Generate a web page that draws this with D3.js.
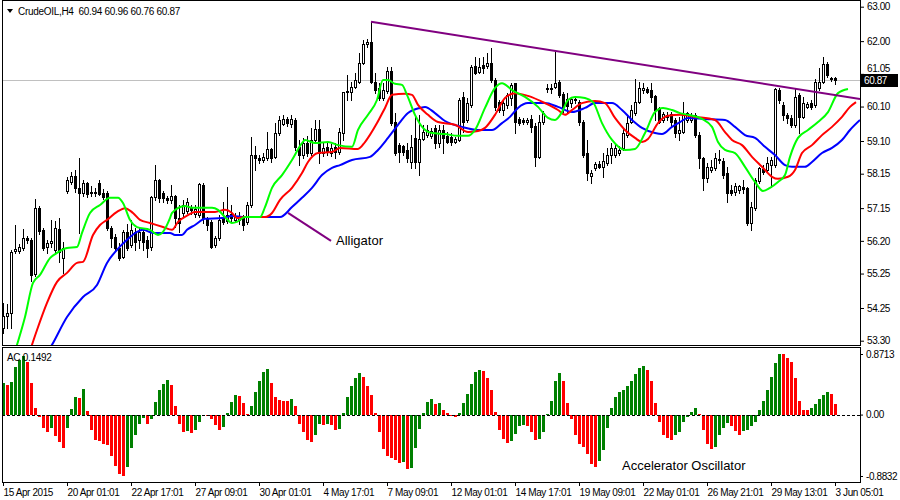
<!DOCTYPE html>
<html><head><meta charset="utf-8">
<script src="https://cdn.jsdelivr.net/npm/d3@7"></script>
<style>
body{margin:0;background:#fff}
svg{display:block}
text{font-family:"Liberation Sans",Arial,sans-serif}
</style>
</head><body>
<svg id="c" width="900" height="500"></svg>
<script>
// ---------- DATA ----------
const symbolTitle = "CrudeOIL,H4\u00a0\u00a060.94 60.96 60.76 60.87";
const open = [
53.67,54.02,54.11,55.91,55.91,55.99,56.28,56.23,55.24,57.15,
56.52,56.02,56.14,55.94,56.55,55.70,57.65,57.91,58.08,57.74,
57.59,57.88,57.59,57.62,57.88,57.59,57.59,56.57,56.31,55.99,
55.73,56.46,56.08,56.46,56.23,56.46,56.23,56.02,57.47,57.97,
57.59,57.45,57.39,57.50,56.86,57.01,57.07,57.15,56.98,56.95,
57.82,56.86,56.75,56.08,56.28,56.89,56.78,56.98,56.81,56.81,
56.86,56.75,57.24,58.69,58.61,58.55,58.61,58.87,58.64,59.33,
59.59,59.74,59.59,59.71,58.93,58.69,59.04,58.75,59.13,59.45,
58.75,58.93,58.75,58.93,58.78,59.33,60.55,60.52,60.67,60.81,
61.37,61.92,61.98,60.81,60.64,60.35,60.55,61.13,59.65,58.98,
58.96,58.84,58.49,59.19,58.49,59.16,59.27,59.25,59.48,59.04,
59.42,59.25,59.22,59.07,59.13,60.38,59.71,60.15,61.28,61.10,
61.31,61.28,61.37,60.87,60.23,60.00,60.15,60.35,60.78,59.74,
59.71,59.65,59.74,59.54,58.64,59.65,60.64,60.61,60.67,60.81,
60.47,60.32,60.20,60.29,60.23,59.65,58.75,58.08,58.32,58.43,
58.35,58.46,58.69,58.69,58.75,58.90,59.27,59.65,59.91,60.23,
60.58,60.61,60.58,60.41,60.06,59.71,59.86,59.88,59.71,59.33,
59.36,59.71,59.71,59.86,59.27,58.61,58.03,58.26,58.32,58.55,
58.52,58.17,57.68,57.62,57.68,57.76,57.74,56.72,57.15,57.94,
58.29,58.26,58.40,58.40,60.58,60.15,59.86,59.77,59.57,60.44,
59.80,60.09,60.20,60.15,60.64,60.81,61.34,60.93,60.94];
const high = [
54.40,54.37,55.94,56.66,56.11,56.55,56.34,56.28,57.42,57.21,
56.57,56.23,56.81,56.78,56.86,56.17,58.05,58.20,58.26,58.61,
57.97,57.91,57.79,57.74,57.97,57.71,57.65,56.63,56.40,56.14,
56.52,56.69,56.81,56.57,56.57,56.57,56.34,57.50,58.40,58.00,
57.65,57.50,57.82,57.53,57.24,57.39,57.45,57.24,57.24,57.88,
57.88,56.89,56.81,56.34,56.95,57.33,57.76,57.24,57.01,57.04,
56.95,57.33,59.22,58.96,58.69,58.75,59.36,58.90,59.62,59.83,
59.86,59.80,59.86,59.77,59.13,59.19,59.25,59.48,59.71,59.71,
59.07,59.04,59.01,59.04,59.48,60.52,61.02,60.81,61.08,61.66,
62.03,62.06,62.56,61.08,60.78,60.78,61.25,61.25,59.91,59.04,
58.98,59.04,59.27,59.86,59.86,59.57,59.57,59.48,59.57,59.57,
59.57,59.36,59.33,59.22,60.35,60.52,60.35,61.31,61.54,61.51,
61.54,61.66,61.80,60.93,60.29,60.29,60.49,60.78,60.78,59.80,
59.77,59.77,59.86,59.62,59.86,59.97,60.76,60.76,61.69,60.87,
60.52,60.49,60.38,60.38,60.29,59.71,59.13,58.26,58.49,58.52,
58.75,58.90,59.04,58.98,58.96,59.48,59.86,60.15,60.90,60.81,
60.78,60.67,60.78,60.44,60.09,59.94,59.94,59.94,59.77,59.80,
60.23,59.94,59.91,59.91,59.36,58.64,58.46,58.55,58.75,58.84,
58.61,58.35,57.82,57.88,57.82,57.97,57.76,57.33,58.03,58.35,
58.40,58.64,58.64,60.64,60.64,60.23,59.91,59.86,60.64,60.49,
60.38,60.23,60.29,60.90,61.22,61.54,61.39,60.96,60.96];
const low = [
53.53,53.67,53.67,55.85,55.85,55.94,56.14,55.04,55.18,56.40,
55.94,55.85,56.02,55.88,55.59,55.27,57.59,57.85,57.62,56.43,
57.50,57.47,57.50,57.50,57.53,57.42,56.52,56.02,55.91,55.65,
55.70,55.94,56.02,55.94,55.99,55.94,55.73,55.94,57.39,57.33,
57.33,57.30,57.30,56.60,56.46,56.89,57.01,56.98,56.89,56.89,
56.72,56.52,55.99,56.02,56.23,56.69,56.72,56.75,56.75,56.69,
56.52,56.69,57.18,58.26,58.46,58.49,58.55,58.49,58.61,59.27,
59.57,59.54,59.51,58.84,58.40,58.61,58.67,58.69,59.07,58.46,
58.67,58.69,58.67,58.61,58.72,59.13,60.29,60.29,60.64,60.78,
61.34,61.83,60.78,60.49,60.29,60.29,60.49,59.57,58.69,58.49,
58.69,58.49,58.32,58.32,58.11,59.13,59.22,59.19,58.90,58.93,
58.75,59.04,58.98,59.04,59.10,59.36,59.65,60.09,61.05,61.08,
61.08,61.22,60.81,60.00,59.94,59.86,60.06,60.15,59.33,59.57,
59.59,59.59,59.36,58.37,58.61,59.59,60.52,60.49,60.64,60.38,
59.94,59.94,60.09,60.20,59.57,58.64,57.97,57.88,58.26,58.32,
58.05,58.40,58.46,58.64,58.69,58.84,59.22,59.62,59.86,60.20,
60.49,60.49,60.23,59.71,59.62,59.65,59.71,59.51,59.22,59.13,
59.33,59.65,59.65,59.22,58.32,57.68,57.91,58.20,58.26,58.46,
58.03,57.33,57.53,57.53,57.59,57.59,56.66,56.52,57.10,57.88,
58.14,58.20,57.76,58.35,60.20,59.71,59.62,59.51,59.51,59.33,
59.77,60.06,60.03,60.09,60.58,60.78,60.96,60.84,60.76];
const close = [
54.02,54.11,55.88,55.96,56.02,56.28,56.23,55.21,57.15,56.49,
55.99,56.14,56.20,56.57,55.88,55.99,57.97,58.08,57.74,57.59,
57.88,57.56,57.62,57.59,57.56,57.47,56.57,56.28,55.99,55.70,
56.46,55.99,56.52,56.17,56.46,56.17,55.99,57.47,57.97,57.45,
57.45,57.39,57.50,56.86,56.72,57.24,57.33,57.10,57.13,57.85,
56.86,56.66,56.02,56.28,56.81,56.75,56.95,56.86,56.92,56.92,
56.66,57.24,58.69,58.61,58.55,58.64,58.87,58.61,59.33,59.71,
59.74,59.62,59.74,58.93,58.69,59.04,58.75,59.13,59.45,58.75,
58.90,58.78,58.90,58.78,59.36,60.52,60.52,60.67,60.87,61.37,
61.92,61.98,60.81,60.58,60.35,60.58,61.13,59.62,58.75,58.78,
58.78,58.61,58.93,58.49,59.16,59.36,59.42,59.39,59.04,59.42,
59.19,59.07,59.07,59.16,60.29,59.65,60.20,61.25,61.08,61.25,
61.22,61.37,60.87,60.09,60.00,60.20,60.44,60.73,59.65,59.62,
59.65,59.71,59.51,58.64,59.65,59.91,60.61,60.64,60.78,60.44,
60.09,60.12,60.32,60.32,59.65,58.69,58.17,58.17,58.43,58.35,
58.52,58.69,58.90,58.90,58.84,59.33,59.62,60.00,60.23,60.64,
60.64,60.52,60.38,60.00,59.65,59.88,59.80,59.65,59.33,59.42,
59.86,59.91,59.86,59.27,58.61,58.03,58.35,58.35,58.61,58.58,
58.11,57.59,57.59,57.79,57.79,57.71,56.72,57.18,57.97,58.32,
58.20,58.46,58.55,60.61,60.29,59.86,59.77,59.57,60.38,59.80,
60.20,60.17,60.09,60.81,60.81,61.34,61.02,60.90,60.87];

// Alligator lines: [bar index, price]
const jaw = [[10,52.75],[12.25,53.18],[16,53.99],[20,54.57],[23.5,54.92],[26,55.56],[28.5,55.94],[31,56.23],[33.5,56.46],[35,56.52],[37.5,56.43],[41.75,56.43],[43,56.37],[44.75,56.37],[46,56.52],[48,56.66],[50.5,56.84],[54.75,56.86],[57.25,56.92],[60.5,56.89],[69.25,56.89],[72.25,57.18],[74.75,57.45],[77.25,57.74],[79.75,58.11],[82.25,58.32],[84.25,58.40],[87.25,58.55],[91.75,58.64],[93.75,58.84],[96.25,59.19],[98.75,59.57],[101.25,59.91],[104.25,60.06],[105.5,60.09],[108,59.91],[110.5,59.68],[114.75,59.51],[118.75,59.42],[122.25,59.42],[124.75,59.62],[126.75,59.80],[128.75,60.06],[131.25,60.20],[135.5,60.20],[138.75,60.09],[142.25,59.94],[145.5,60.06],[148,60.20],[152.25,60.20],[154.75,60.00],[157.25,59.71],[159.75,59.48],[163,59.33],[164.75,59.30],[167.25,59.51],[169.25,59.65],[171.25,59.77],[175.5,59.74],[180.5,59.71],[183,59.51],[185.5,59.27],[188,59.19],[190.5,58.93],[193,58.69],[195.5,58.40],[197.25,58.35],[200.5,58.35],[202.25,58.49],[204.75,58.75],[207.25,58.90],[209.75,59.13],[211.75,59.42],[214.25,59.71]];
const teeth = [[6,52.7],[7.25,53.18],[8.5,53.61],[11,54.40],[13.5,55.01],[16,55.27],[18.5,55.56],[20,55.59],[22.5,56.37],[24.25,56.66],[26,56.81],[28.5,57.04],[30.5,57.15],[32.5,57.01],[34.25,56.81],[36.75,56.72],[40,56.60],[42.25,56.52],[43.75,56.75],[46.25,56.95],[48,57.04],[53,57.04],[55.5,57.10],[57.25,57.01],[58.5,56.86],[60.5,56.89],[65.5,56.89],[67.25,57.01],[69.25,57.39],[72.25,57.74],[74.75,58.17],[76.25,58.49],[78.75,58.75],[82.25,58.78],[84.25,58.90],[88.75,58.87],[90.5,59.07],[93.5,59.62],[95.5,60.06],[97.25,60.44],[100.5,60.47],[102.25,60.44],[103.75,60.15],[106.25,59.86],[108.75,59.65],[113,59.57],[116.25,59.36],[118.75,59.39],[120.5,59.48],[123,59.86],[125.5,60.35],[128,60.49],[131.25,60.41],[135.5,60.20],[138.75,60.00],[140.5,59.86],[142.25,60.00],[144.75,60.20],[148,60.26],[150.5,60.20],[153,59.77],[155.5,59.42],[158,59.19],[159.75,59.07],[161.25,59.16],[163.75,59.62],[166.25,59.83],[169.25,59.86],[173,59.80],[178,59.71],[180.5,59.36],[182.25,59.13],[184.75,58.98],[187.25,58.64],[189.75,58.35],[192.25,58.06],[193.75,58.00],[196.25,58.06],[198,58.26],[199.75,58.75],[202.25,58.98],[204.75,59.27],[207.25,59.51],[209.75,59.80],[211.75,60.09],[213.25,60.23]];
const lips = [[2.5,52.8],[3.5,53.18],[5.5,53.99],[7.5,54.98],[9.25,55.21],[11.75,55.70],[13.5,55.85],[16,55.99],[18.5,56.02],[19.75,56.43],[21.75,57.01],[24.25,57.24],[26.75,57.45],[28.75,57.45],[30,57.30],[31.75,56.81],[33.5,56.60],[36.75,56.52],[38.75,56.37],[40,56.46],[41.75,56.86],[42.25,57.01],[45.5,57.21],[47.25,57.16],[52.25,57.16],[53.75,57.10],[55.5,56.89],[57.25,56.72],[58.5,56.75],[60.5,56.89],[64.25,56.89],[65.5,57.18],[67.25,57.74],[69.75,58.11],[72.25,58.55],[74.75,59.04],[75.5,59.13],[78,59.04],[81.25,59.07],[83.75,58.98],[87.25,58.93],[88.75,59.42],[91.25,59.86],[93.5,60.29],[95,60.87],[96.25,60.87],[98,60.76],[99.75,60.73],[101,60.44],[103,59.86],[105,59.48],[107.25,59.33],[110.5,59.30],[113.75,59.25],[116.25,59.25],[118,59.42],[120.5,60.06],[123,60.64],[124.75,60.78],[127.25,60.58],[130.5,60.38],[133.75,60.09],[136.25,59.77],[138,59.71],[139.75,59.94],[141.25,60.29],[143,60.38],[145.5,60.35],[147.5,60.23],[149.75,59.62],[152.25,59.13],[155.5,58.84],[158,58.87],[160.5,59.33],[163,59.94],[165,60.06],[167.25,60.00],[169.25,59.91],[171.25,59.86],[174.75,59.74],[177.25,59.51],[178.75,59.07],[180.5,58.84],[183,58.75],[185.5,58.35],[188,57.91],[190,57.65],[191.75,57.74],[193.75,57.91],[195.5,58.11],[196.75,58.64],[198.75,59.19],[201.25,59.42],[203.75,59.65],[206.25,59.94],[208.75,60.49],[211.25,60.61]];

// Trend line and label pointer: [bar index, price]
const trendLine = [[92,62.56],[214.25,60.32]];
const alligatorPointer = [[71.25,57.01],[82,56.20]];
const alligatorLabel = {text:"Alligator", bar:83.25, price:56.08};
const acLabel = {text:"Accelerator Oscillator", bar:154.75, value:-0.80};

// Accelerator Oscillator values
const ac = [
0.45,0.42,0.47,0.68,0.79,0.84,0.75,0.45,0.09,-0.03,
-0.20,-0.25,-0.20,-0.31,-0.39,-0.48,-0.20,0.08,0.25,0.24,
0.37,0.05,-0.22,-0.37,-0.38,-0.42,-0.44,-0.60,-0.74,-0.85,
-0.8832,-0.76,-0.48,-0.30,-0.13,-0.05,-0.13,-0.07,0.18,0.36,
0.44,0.50,0.42,0.13,-0.13,-0.25,-0.24,-0.27,-0.22,-0.11,
-0.005,-0.02,-0.07,-0.15,-0.22,-0.18,0.02,0.18,0.28,0.27,
0.16,0.01,0.13,0.32,0.48,0.61,0.66,0.45,0.25,0.21,
0.20,0.19,0.22,0.12,-0.13,-0.25,-0.36,-0.39,-0.29,-0.14,
-0.15,-0.14,-0.15,-0.22,-0.21,0.03,0.26,0.41,0.52,0.60,
0.54,0.41,0.28,0.03,-0.25,-0.50,-0.60,-0.63,-0.65,-0.69,
-0.68,-0.78,-0.77,-0.48,-0.21,0.03,0.18,0.22,0.15,0.17,
0.06,0.03,-0.02,-0.04,0.03,0.16,0.29,0.44,0.61,0.64,
0.62,0.52,0.36,0.04,-0.22,-0.35,-0.41,-0.38,-0.28,-0.17,
-0.15,-0.16,-0.25,-0.36,-0.35,-0.25,0.01,0.19,0.48,0.60,
0.48,0.16,-0.06,-0.29,-0.42,-0.46,-0.57,-0.71,-0.76,-0.67,
-0.51,-0.19,0.10,0.26,0.32,0.36,0.41,0.48,0.58,0.67,
0.70,0.64,0.49,0.17,-0.10,-0.29,-0.34,-0.36,-0.30,-0.25,
-0.10,-0.03,0.04,0.09,0.01,-0.22,-0.42,-0.49,-0.46,-0.30,
-0.19,-0.12,-0.17,-0.23,-0.30,-0.23,-0.22,-0.17,-0.10,0.06,
0.20,0.36,0.54,0.74,0.8713,0.865,0.81,0.76,0.52,0.20,
0.07,0.06,0.09,0.15,0.22,0.28,0.32,0.30,0.1492];

const priceTicks = [63.00,62.00,61.05,60.10,59.10,58.15,57.15,56.20,55.25,54.25,53.30];
const acTicks = [0.8713,0,-0.8832];
const timeTickBars = [0,16,32,48,64,80,96,112,128,144,160,176,192,208];
const timeLabels = ["15 Apr 2015","20 Apr 01:01","22 Apr 17:01","27 Apr 09:01","30 Apr 01:01","4 May 17:01","7 May 09:01","12 May 01:01","14 May 17:01","19 May 09:01","22 May 01:01","26 May 21:01","29 May 13:01","3 Jun 05:01"];
const lastPrice = 60.87;
const acLast = "AC 0.1492";

// ---------- LAYOUT ----------
const svg = d3.select("#c");
const PL = 2, PR = 860, MT = 0, MB = 345, AT = 347, AB = 482;
const x = d3.scaleLinear().domain([0, 208]).range([3, 835]);
const y = d3.scaleLinear().domain([53.30, 63.00]).range([340.7, 6.7]);
const ya = d3.scaleLinear().domain([-0.8832, 0.8713]).range([476, 354]);

svg.append("rect").attr("width",900).attr("height",500).attr("fill","#fff");

const defs = svg.append("defs");
defs.append("clipPath").attr("id","mainClip").append("rect")
  .attr("x",PL+1).attr("y",MT+1).attr("width",PR-PL-1).attr("height",MB-MT-1);
defs.append("clipPath").attr("id","acClip").append("rect")
  .attr("x",PL+1).attr("y",AT+1).attr("width",PR-PL-1).attr("height",AB-AT-1);

// current price line
const main = svg.append("g").attr("clip-path","url(#mainClip)");
const yLast = Math.round(y(lastPrice)) + 0.5;
main.append("line").attr("x1",PL).attr("x2",PR).attr("y1",yLast).attr("y2",yLast)
  .attr("stroke","#c0c0c0").attr("stroke-width",1);

// candles
const idx = d3.range(open.length);
const cg = main.append("g");
idx.forEach(i => {
  const cx = Math.round(x(i)) + 0.5;
  cg.append("line").attr("x1",cx).attr("x2",cx)
    .attr("y1",Math.round(y(high[i]))).attr("y2",Math.round(y(low[i]))+1)
    .attr("stroke","#000").attr("stroke-width",1);
  const t = Math.round(y(Math.max(open[i],close[i])));
  const b = Math.round(y(Math.min(open[i],close[i])));
  const bull = close[i] >= open[i];
  if (b - t < 1) {
    cg.append("line").attr("x1",cx-1.5).attr("x2",cx+1.5).attr("y1",t+0.5).attr("y2",t+0.5)
      .attr("stroke","#000").attr("stroke-width",1);
  } else {
    cg.append("rect").attr("x",cx-1).attr("y",t+0.5).attr("width",2).attr("height",b-t)
      .attr("fill", bull ? "#fff" : "#000").attr("stroke","#000").attr("stroke-width",1);
  }
});

// alligator lines
const lineGen = d3.line().x(d => x(d[0])).y(d => y(d[1])).curve(d3.curveMonotoneX);
[[jaw,"#0000ff"],[teeth,"#ff0000"],[lips,"#00ff00"]].forEach(([data,col]) => {
  main.append("path").attr("d",lineGen(data)).attr("fill","none")
    .attr("stroke",col).attr("stroke-width",2).attr("stroke-linejoin","round");
});

// trend line & pointer
const straight = d3.line().x(d => x(d[0])).y(d => y(d[1]));
main.append("path").attr("d",straight(trendLine)).attr("stroke","#800080").attr("stroke-width",2).attr("fill","none");
main.append("path").attr("d",straight(alligatorPointer)).attr("stroke","#800080").attr("stroke-width",2).attr("fill","none");
svg.append("text").attr("x",x(alligatorLabel.bar)).attr("y",y(alligatorLabel.price))
  .attr("font-size",13).attr("fill","#000").text(alligatorLabel.text);

// AC panel
const acg = svg.append("g").attr("clip-path","url(#acClip)");
const y0 = Math.round(ya(0));
ac.forEach((v,i) => {
  const col = (i === 0 || v > ac[i-1]) ? "#008000" : "#ff0000";
  const yv = Math.round(ya(v));
  acg.append("rect").attr("x",Math.round(x(i))-1).attr("width",3)
    .attr("y",Math.min(yv,y0)).attr("height",Math.max(1,Math.abs(yv-y0)))
    .attr("fill",col);
});
acg.append("line").attr("x1",PL).attr("x2",PR).attr("y1",y0+0.5).attr("y2",y0+0.5)
  .attr("stroke","#000").attr("stroke-width",1).attr("stroke-dasharray","3,2");
svg.append("text").attr("x",x(acLabel.bar)).attr("y",ya(acLabel.value))
  .attr("font-size",13).attr("fill","#000").text(acLabel.text);

// frames
svg.append("rect").attr("x",PL+0.5).attr("y",MT+0.5).attr("width",PR-PL).attr("height",MB-MT)
  .attr("fill","none").attr("stroke","#000");
svg.append("rect").attr("x",PL+0.5).attr("y",AT+0.5).attr("width",PR-PL).attr("height",AB-AT)
  .attr("fill","none").attr("stroke","#000");

// price axis
const pa = svg.append("g").attr("transform",`translate(${PR},0)`)
  .call(d3.axisRight(y).tickValues(priceTicks).tickSize(4).tickPadding(3).tickFormat(d3.format(".2f")));
pa.select(".domain").remove();
pa.selectAll("text").attr("font-size",10).attr("letter-spacing",-0.4).attr("fill","#000")
  .attr("font-family","Liberation Sans, Arial, sans-serif");
// the last-price box hides most of the nearby tick label, as in the original terminal
pa.selectAll(".tick").filter(d => Math.abs(y(d) - y(lastPrice)) < 10).select("text")
  .attr("dy","-0.25em");

// AC axis
const aa = svg.append("g").attr("transform",`translate(${PR},0)`)
  .call(d3.axisRight(ya).tickValues(acTicks).tickSize(3).tickPadding(3)
    .tickFormat(d => d === 0 ? "0.00" : d.toFixed(4)));
aa.select(".domain").remove();
aa.selectAll("text").attr("font-size",10).attr("letter-spacing",-0.4).attr("fill","#000")
  .attr("font-family","Liberation Sans, Arial, sans-serif");

// time axis
const ta = svg.append("g").attr("transform",`translate(0,${AB})`)
  .call(d3.axisBottom(x).tickValues(timeTickBars).tickSize(4).tickPadding(3)
    .tickFormat((d,i) => timeLabels[i]));
ta.select(".domain").remove();
ta.selectAll("text").attr("text-anchor","start").attr("font-size",10).attr("letter-spacing",-0.4)
  .attr("fill","#000").attr("font-family","Liberation Sans, Arial, sans-serif");

// last price box
svg.append("rect").attr("x",PR+1).attr("y",yLast-6.5).attr("width",37).attr("height",13).attr("fill","#000");
svg.append("text").attr("x",PR+4).attr("y",yLast+3.5).attr("font-size",10).attr("letter-spacing",-0.4)
  .attr("fill","#fff").text(d3.format(".2f")(lastPrice));

// title
svg.append("path").attr("d","M7,9 L13,9 L10,13 Z").attr("fill","#000");
svg.append("text").attr("x",18).attr("y",14.5).attr("font-size",10).attr("letter-spacing",-0.3)
  .attr("fill","#000").text(symbolTitle);
svg.append("text").attr("x",7).attr("y",361).attr("font-size",10).attr("letter-spacing",-0.3)
  .attr("fill","#000").text(acLast);
</script>
</body></html>
